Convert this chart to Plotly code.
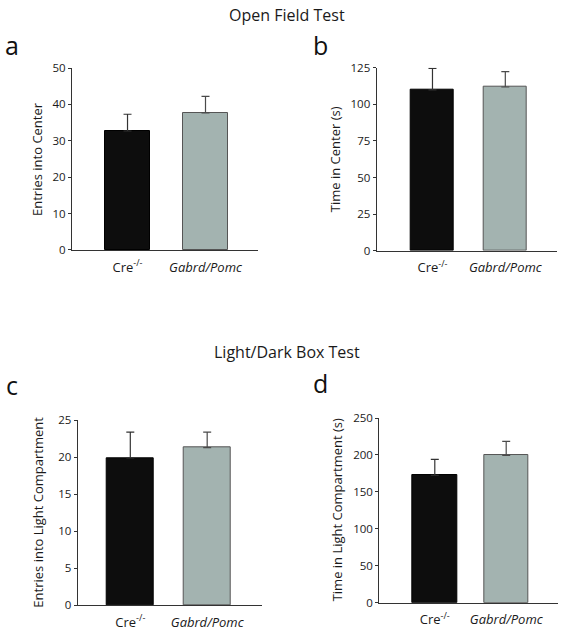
import plotly.graph_objects as go

groups = ["Cre<sup>-/-</sup>", "<i>Gabrd/Pomc</i>"]
entries_center = [32.7, 37.7]
entries_center_err = [4.6, 4.5]
time_center = [109.8, 111.8]
time_center_err = [14.8, 10.5]
entries_light = [19.9, 21.3]
entries_light_err = [3.5, 2.1]
time_light = [172.5, 199.5]
time_light_err = [21.5, 19.0]

bar_colors = ["#0d0d0d", "#a3b3b0"]
line_colors = ["#000000", "#555555"]
err_colors = ["#333333", "#4a4a4a"]
FONT = "Open Sans"

panels = [
    dict(vals=entries_center, err=entries_center_err, ymax=50, dtick=10,
         xdom=[0.1261, 0.4518], ydom=[0.6063, 0.8929], xr=[-0.712, 1.673], w=0.577,
         title="Entries into Center", tx=37, letter="a", lx=12, ly=45),
    dict(vals=time_center, err=time_center_err, ymax=125, dtick=25,
         xdom=[0.6597, 0.9750], ydom=[0.6052, 0.8934], xr=[-0.766, 1.706], w=0.59,
         title="Time in Center (s)", tx=335, letter="b", lx=320, ly=45),
    dict(vals=entries_light, err=entries_light_err, ymax=25, dtick=5,
         xdom=[0.1361, 0.4583], ydom=[0.0472, 0.3381], xr=[-0.684, 1.709], w=0.61,
         title="Entries into Light Compartment", tx=38, letter="c", lx=12, ly=385),
    dict(vals=time_light, err=time_light_err, ymax=250, dtick=50,
         xdom=[0.6643, 0.9778], ydom=[0.0509, 0.3417], xr=[-0.777, 1.73], w=0.62,
         title="Time in Light Compartment (s)", tx=337, letter="d", lx=320, ly=383),
]

W, H = 571, 635
fig = go.Figure()
annotations = []
for i, p in enumerate(panels):
    n = "" if i == 0 else str(i + 1)
    for j in range(2):
        fig.add_trace(go.Bar(
            x=[j], y=[p["vals"][j]], width=p["w"],
            marker=dict(color=bar_colors[j], line=dict(color=line_colors[j], width=1)),
            error_y=dict(type="data", symmetric=False, array=[p["err"][j]], arrayminus=[0],
                         color=err_colors[j], thickness=1.2, width=4),
            xaxis="x" + n, yaxis="y" + n, showlegend=False, hoverinfo="skip",
        ))
    fig.layout["xaxis" + n] = dict(
        domain=p["xdom"], range=p["xr"], anchor="y" + n, automargin=False,
        tickvals=[0, 1], ticktext=groups, showgrid=False, zeroline=False,
        showline=True, linecolor="#333333", linewidth=1.2,
        ticks="outside", ticklen=5, tickcolor="rgba(0,0,0,0)",
        tickfont=dict(family=FONT, size=13, color="#1a1a1a"), fixedrange=True,
    )
    fig.layout["yaxis" + n] = dict(
        domain=p["ydom"], range=[0, p["ymax"]], anchor="x" + n, automargin=False,
        dtick=p["dtick"], showgrid=False, zeroline=False,
        showline=True, linecolor="#333333", linewidth=1.2,
        ticks="outside", ticklen=3, tickcolor="#333333",
        tickfont=dict(family=FONT, size=11.5, color="#1a1a1a"),
    )
    ymid = (p["ydom"][0] + p["ydom"][1]) / 2
    annotations.append(dict(
        text=p["title"], x=p["tx"] / W, y=ymid, xref="paper", yref="paper",
        textangle=-90, showarrow=False, xanchor="center", yanchor="middle",
        font=dict(family=FONT, size=13, color="#1a1a1a"),
    ))
    annotations.append(dict(
        text=p["letter"], x=p["lx"] / W, y=1 - p["ly"] / H, xref="paper", yref="paper",
        showarrow=False, xanchor="center", yanchor="middle",
        font=dict(family=FONT, size=25, color="#111111"),
    ))

annotations.append(dict(text="Open Field Test", x=287 / W, y=1 - 15 / H, xref="paper", yref="paper",
                        showarrow=False, xanchor="center", yanchor="middle",
                        font=dict(family=FONT, size=16, color="#1a1a1a")))
annotations.append(dict(text="Light/Dark Box Test", x=287 / W, y=1 - 352 / H, xref="paper", yref="paper",
                        showarrow=False, xanchor="center", yanchor="middle",
                        font=dict(family=FONT, size=16, color="#1a1a1a")))

fig.update_layout(
    width=W, height=H, margin=dict(l=0, r=0, t=0, b=0, autoexpand=False),
    paper_bgcolor="white", plot_bgcolor="white", showlegend=False,
    annotations=annotations, bargap=0,
)
fig.write_html("out.html", config={"displayModeBar": False},
               post_script="document.body.style.margin='0';document.body.style.overflow='hidden';")
